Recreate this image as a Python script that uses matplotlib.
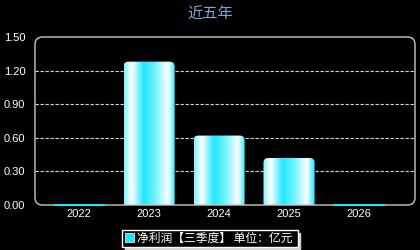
import matplotlib
matplotlib.use("Agg")
import matplotlib.pyplot as plt
import numpy as np
from matplotlib.patches import FancyBboxPatch, Rectangle
from matplotlib.colors import LinearSegmentedColormap

plt.rcParams["font.family"] = ["Noto Sans CJK SC", "DejaVu Sans"]

years = ["2022", "2023", "2024", "2025", "2026"]
profit = [0.01, 1.28, 0.62, 0.42, 0.01]
yticks = [0.0, 0.3, 0.6, 0.9, 1.2, 1.5]

fig = plt.figure(figsize=(4.2, 2.5), dpi=100, facecolor="black")
ax = fig.add_axes([35 / 420, 45 / 250, 380 / 420, 168 / 250])
ax.set_facecolor("black")

x = np.arange(len(years))
ax.set_xlim(-0.63, 4.8)
ax.set_ylim(0, 1.5)

# horizontal glossy gradient
grad_cmap = LinearSegmentedColormap.from_list(
    "gloss",
    [(0.0, "#7ff4ff"), (0.14, "#ffffff"), (0.38, "#22e8ff"), (0.6, "#6ff2ff"),
     (0.85, "#ffffff"), (1.0, "#22e8ff")])
grad = np.linspace(0, 1, 64).reshape(1, -1)
width = 0.73

for xi, v in zip(x, profit):
    x0 = xi - width / 2
    if v < 0.05:
        # tiny values: draw a thin visible strip on the baseline
        ax.add_patch(Rectangle((x0, -0.012), width, 0.024, color="#1ee6ff",
                               clip_on=False, lw=0, zorder=4))
        continue
    box = FancyBboxPatch((x0, -0.1), width, v + 0.1,
                         boxstyle="round,pad=0,rounding_size=0.07",
                         mutation_aspect=0.6, fc="none", ec="none")
    ax.add_patch(box)
    im = ax.imshow(grad, cmap=grad_cmap, extent=[x0, x0 + width, 0, v],
                   aspect="auto", zorder=2, interpolation="bilinear")
    im.set_clip_path(box)

ax.set_yticks(yticks)
ax.set_yticklabels([f"{t:.2f}" for t in yticks])
ax.set_xticks(x)
ax.set_xticklabels(years)
ax.tick_params(colors="white", labelsize=8, length=0)
ax.tick_params(axis="y", pad=7)
ax.tick_params(axis="x", pad=3)
for lab in ax.get_xticklabels() + ax.get_yticklabels():
    lab.set_family("Liberation Sans")
for t in yticks[1:-1]:
    ax.axhline(t, color="#c8d8e0", lw=0.8, ls=(0, (3, 1.5)), zorder=1)
for s in ax.spines.values():
    s.set_visible(False)

frame = FancyBboxPatch((0, 0), 1, 1, transform=ax.transAxes,
                       boxstyle="round,pad=0,rounding_size=0.02",
                       mutation_aspect=2.2, fc="none", ec="#c8c8c8", lw=1,
                       clip_on=False, zorder=3)
ax.add_patch(frame)

fig.text(0.5, 0.925, "近五年", color="#7fa6d6", fontsize=11, ha="center")

handle = Rectangle((0, 0), 1, 1, fc="#1ee6ff", ec="white", lw=0.5)
leg = fig.legend([handle], ["净利润【三季度】 单位：亿元 "], loc="lower center",
                 bbox_to_anchor=(0.5, 0.012), frameon=True, fancybox=False,
                 shadow={"color": "#d0d0d0", "alpha": 1}, facecolor="black",
                 edgecolor="white", fontsize=8.5, labelcolor="white",
                 handlelength=0.8, handleheight=0.8, handletextpad=0.3,
                 borderpad=0.3, borderaxespad=0)
leg.get_frame().set_linewidth(1)
leg._legend_box.pad = 1.5

fig.savefig("out.png", dpi=100, facecolor="black")
